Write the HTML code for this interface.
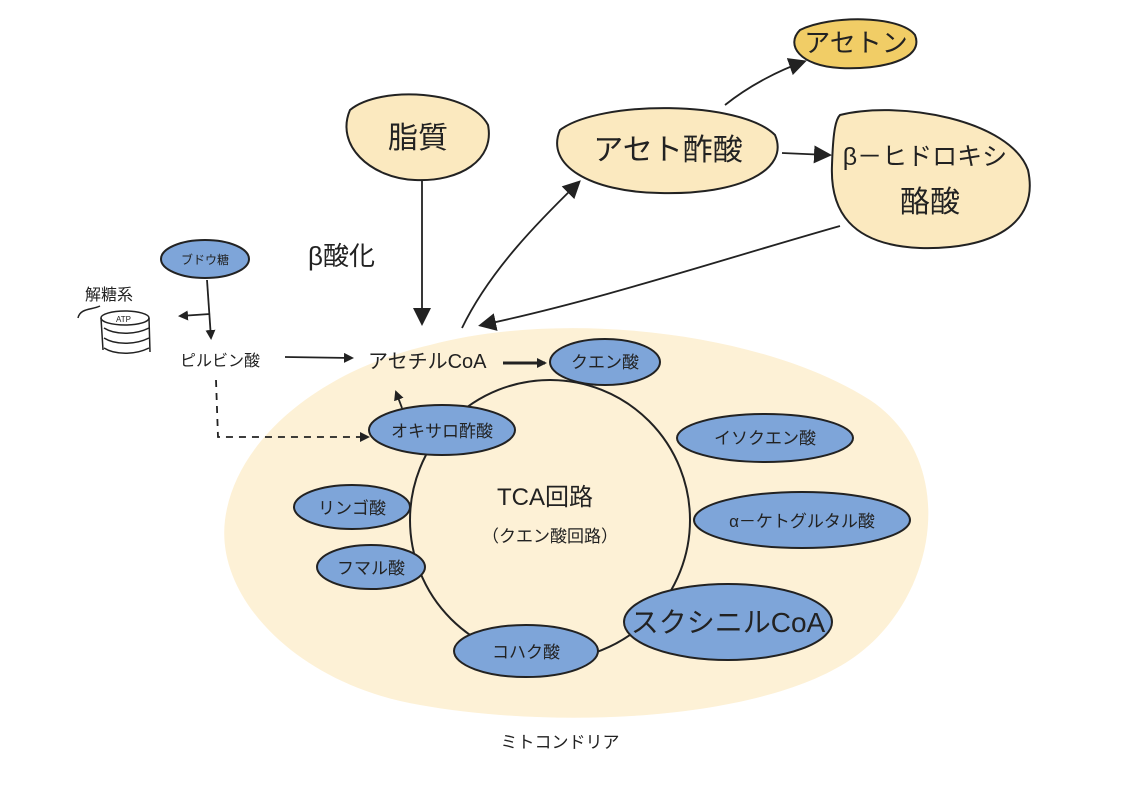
<!DOCTYPE html>
<html><head><meta charset="utf-8"><style>
html,body{margin:0;padding:0;background:#fff;}
svg{display:block;}
text{font-family:"Liberation Sans","Noto Sans CJK JP",sans-serif;fill:#222;}
</style></head><body>
<svg width="1140" height="792" viewBox="0 0 1140 792" xmlns="http://www.w3.org/2000/svg">
<defs>
<marker id="ah" markerWidth="10" markerHeight="10" refX="8" refY="5" orient="auto" markerUnits="userSpaceOnUse">
<path d="M0,0 L10,5 L0,10 z" fill="#222"/></marker>
<marker id="ahb" markerWidth="18" markerHeight="18" refX="14" refY="9" orient="auto" markerUnits="userSpaceOnUse">
<path d="M0,0 L18,9 L0,18 z" fill="#222"/></marker>
</defs>
<path d="M430,345 C560,310 760,330 870,400 C960,460 940,600 850,660 C760,720 560,730 420,705 C300,685 215,600 225,520 C235,440 320,370 430,345 z" fill="#fdf1d6"/>
<circle cx="550" cy="520" r="140" fill="#fdf1d6" stroke="#222" stroke-width="2"/>
<text x="545" y="505" font-size="24" text-anchor="middle">TCA回路</text>
<text x="550" y="542" font-size="17" text-anchor="middle">（クエン酸回路）</text>
<text x="560" y="748" font-size="17" text-anchor="middle">ミトコンドリア</text>
<g fill="#7ea5d9" stroke="#222" stroke-width="2">
<ellipse cx="605" cy="362" rx="55" ry="23"/>
<ellipse cx="765" cy="438" rx="88" ry="24"/>
<ellipse cx="802" cy="520" rx="108" ry="28"/>
<ellipse cx="728" cy="622" rx="104" ry="38"/>
<ellipse cx="526" cy="651" rx="72" ry="26"/>
<ellipse cx="371" cy="567" rx="54" ry="22"/>
<ellipse cx="352" cy="507" rx="58" ry="22"/>
<ellipse cx="442" cy="430" rx="73" ry="25"/>
<ellipse cx="205" cy="259" rx="44" ry="19"/>
</g>
<g font-size="17">
<text x="605" y="368" text-anchor="middle">クエン酸</text>
<text x="765" y="444" text-anchor="middle">イソクエン酸</text>
<text x="802" y="527" text-anchor="middle">α－ケトグルタル酸</text>
<text x="728" y="632" text-anchor="middle" font-size="28">スクシニルCoA</text>
<text x="526" y="658" text-anchor="middle">コハク酸</text>
<text x="371" y="574" text-anchor="middle">フマル酸</text>
<text x="352" y="514" text-anchor="middle">リンゴ酸</text>
<text x="442" y="437" text-anchor="middle">オキサロ酢酸</text>
<text x="205" y="264" text-anchor="middle" font-size="12">ブドウ糖</text>
</g>
<g fill="#fbe9bf" stroke="#222" stroke-width="2">
<path d="M350,110 C380,85 470,90 488,125 C495,160 460,182 415,180 C370,178 335,145 350,110 z"/>
<path d="M560,130 C600,100 740,100 775,135 C790,170 740,195 660,193 C590,192 545,165 560,130 z"/>
<path d="M840,115 C900,100 1010,120 1028,170 C1040,225 990,250 920,248 C850,245 830,210 832,165 C833,135 835,120 840,115 z"/>
</g>
<path d="M800,30 C830,15 900,15 915,35 C925,60 880,70 840,68 C800,66 785,45 800,30 z" fill="#f1cd66" stroke="#222" stroke-width="2"/>
<text x="418" y="148" font-size="30" text-anchor="middle">脂質</text>
<text x="668" y="160" font-size="30" text-anchor="middle">アセト酢酸</text>
<text x="925" y="165" font-size="25" text-anchor="middle">β－ヒドロキシ</text>
<text x="930" y="212" font-size="30" text-anchor="middle">酪酸</text>
<text x="856" y="52" font-size="26" text-anchor="middle">アセトン</text>
<text x="308" y="265" font-size="26">β酸化</text>
<text x="85" y="300" font-size="16">解糖系</text>
<text x="180" y="366" font-size="16">ピルビン酸</text>
<text x="368" y="368" font-size="20">アセチルCoA</text>
<g fill="none" stroke="#222" stroke-width="1.5">
<path d="M78,318 C80,308 92,310 100,306"/>
<ellipse cx="125" cy="318" rx="24" ry="7"/>
<path d="M101,318 L103,350 M149,318 L150,352"/>
<path d="M104,328 C115,335 135,335 149,328 M104,338 C115,345 135,345 149,338 M104,348 C115,355 135,355 149,348"/>
</g>
<text x="116" y="322" font-size="8">ATP</text>
<g stroke="#222" stroke-width="1.8" fill="none">
<path d="M207,280 L211,338" marker-end="url(#ah)"/>
<path d="M210,314 L180,316" marker-end="url(#ah)"/>
<path d="M285,357 L352,358" marker-end="url(#ah)"/>
<path d="M503,363 L545,363" stroke-width="3" marker-end="url(#ah)"/>
<path d="M216,380 L218,437 L368,437" stroke-dasharray="7,6" marker-end="url(#ah)"/>
<path d="M402,408 L396,392" marker-end="url(#ah)"/>
<path d="M422,180 L422,322" marker-end="url(#ahb)"/>
<path d="M462,328 C490,270 540,220 578,183" marker-end="url(#ahb)"/>
<path d="M840,226 C720,260 600,300 482,325" marker-end="url(#ahb)"/>
<path d="M782,153 L828,155" marker-end="url(#ahb)"/>
<path d="M725,105 C750,85 780,70 803,62" marker-end="url(#ahb)"/>
</g>
</svg>
</body></html>
